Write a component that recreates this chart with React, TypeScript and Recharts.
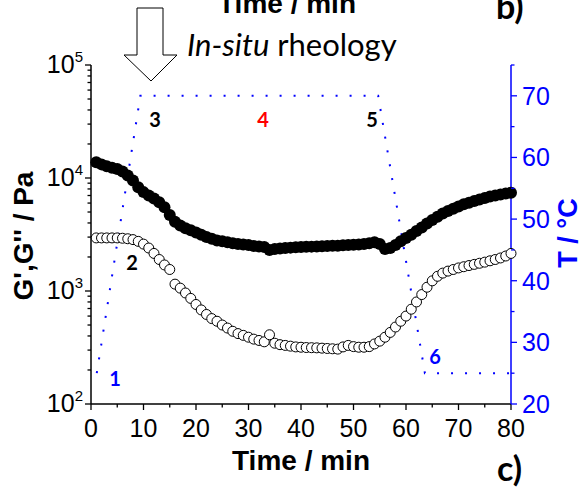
import React from "react";
import { ComposedChart, Scatter, Line, XAxis, YAxis } from "recharts";

// time stamps of the rheology measurement (min)
const time = [
  1, 2, 3, 4, 5, 6, 7, 8, 9, 10, 11, 12, 13, 14, 15, 16, 17, 18, 19, 20,
  21, 22, 23, 24, 25, 26, 27, 28, 29, 30, 31, 32, 33, 34, 35, 36, 37, 38, 39, 40,
  41, 42, 43, 44, 45, 46, 47, 48, 49, 50, 51, 52, 53, 54, 55, 56, 57, 58, 59, 60,
  61, 62, 63, 64, 65, 66, 67, 68, 69, 70, 71, 72, 73, 74, 75, 76, 77, 78, 79, 80,
];

// storage modulus G' (Pa), filled symbols
const gPrime = [
  13800, 13200, 12700, 12300, 12000, 11400, 10500, 9500, 8300, 7500,
  7000, 6600, 6100, 5500, 4700, 4100, 3800, 3600, 3450, 3300,
  3150, 3000, 2900, 2800, 2750, 2700, 2650, 2600, 2580, 2550,
  2500, 2480, 2450, 2300, 2350, 2380, 2400, 2420, 2440, 2450,
  2460, 2470, 2480, 2490, 2500, 2510, 2520, 2540, 2550, 2560,
  2580, 2600, 2650, 2700, 2600, 2350, 2400, 2550, 2750, 2950,
  3150, 3400, 3650, 3950, 4250, 4550, 4850, 5100, 5350, 5600,
  5850, 6050, 6250, 6450, 6650, 6850, 7000, 7150, 7300, 7400,
];

// loss modulus G'' (Pa), open symbols
const gDouble = [
  2950, 2950, 2950, 2950, 2950, 2930, 2900, 2850, 2750, 2600,
  2400, 2150, 1900, 1700, 1550, 1150, 1060, 960, 860, 760,
  680, 620, 570, 540, 500, 470, 440, 420, 405, 390,
  375, 365, 355, 410, 345, 335, 330, 325, 320, 318,
  316, 315, 314, 312, 310, 308, 306, 320, 330, 322,
  318, 318, 322, 340, 360, 390, 430, 480, 540, 600,
  690, 800, 930, 1080, 1230, 1350, 1440, 1500, 1550, 1600,
  1640, 1680, 1720, 1760, 1800, 1850, 1900, 1960, 2040, 2150,
];

// temperature programme
const tempTime = [1.1, 9.4, 54.7, 63.6, 80];
const tempValue = [25, 70, 70, 25, 25];

const xTicks = [0, 5, 10, 15, 20, 25, 30, 35, 40, 45, 50, 55, 60, 65, 70, 75, 80];
const gTicks = [
  100, 200, 300, 400, 500, 600, 700, 800, 900,
  1000, 2000, 3000, 4000, 5000, 6000, 7000, 8000, 9000,
  10000, 20000, 30000, 40000, 50000, 60000, 70000, 80000, 90000,
  100000,
];
const tTicks = [20, 25, 30, 35, 40, 45, 50, 55, 60, 65, 70, 75];

const gPrimeData = time.map((t, i) => ({ t, g: gPrime[i] }));
const gDoubleData = time.map((t, i) => ({ t, g: gDouble[i] }));
const tempData = tempTime.map((t, i) => ({ t, T: tempValue[i] }));

const BLUE = "#0000ff";
const ARIAL = "'Liberation Sans', Arial, sans-serif";
const CAL = "Lato, 'Open Sans', sans-serif";

function XTick({ x, y, payload }: any) {
  const v = payload.value;
  const major = v % 10 === 0;
  return (
    <g>
      <line x1={x} x2={x} y1={y} y2={y + (major ? 6 : 3.5)} stroke="#000" strokeWidth={1.3} />
      {major && (
        <text x={x} y={y + 33} textAnchor="middle" fontSize={25} fontFamily={ARIAL} fill="#000">
          {v}
        </text>
      )}
    </g>
  );
}

function LogTick({ x, y, payload }: any) {
  const v = payload.value;
  const exp = Math.log10(v);
  const major = Math.abs(exp - Math.round(exp)) < 1e-6;
  return (
    <g>
      <line x1={x} x2={x - (major ? 6 : 3.5)} y1={y} y2={y} stroke="#000" strokeWidth={1.3} />
      {major && (
        <text x={x - 8} y={y + 8} textAnchor="end" fontSize={25} fontFamily={ARIAL} fill="#000">
          10
          <tspan dy={-11} fontSize={15}>
            {Math.round(exp)}
          </tspan>
        </text>
      )}
    </g>
  );
}

function TempTick({ x, y, payload }: any) {
  const v = payload.value;
  const major = v % 10 === 0;
  return (
    <g>
      <line x1={x} x2={x + (major ? 6 : 3.5)} y1={y} y2={y} stroke={BLUE} strokeWidth={1.3} />
      {major && (
        <text x={x + 11} y={y + 9} textAnchor="start" fontSize={25} fontFamily={ARIAL} fill={BLUE}>
          {v}
        </text>
      )}
    </g>
  );
}

const filledDot = (p: any) => <circle cx={p.cx} cy={p.cy} r={6} fill="#000" />;
const openDot = (p: any) => (
  <circle cx={p.cx} cy={p.cy} r={5} fill="#fff" stroke="#000" strokeWidth={1} />
);

export default function App() {
  return (
    <div style={{ position: "absolute", left: 0, top: 0, width: 584, height: 488, background: "#fff" }}>
      <ComposedChart width={584} height={488} margin={{ top: 65, right: 0, bottom: 0, left: 0 }}>
        <XAxis
          dataKey="t"
          type="number"
          domain={[0, 80]}
          ticks={xTicks}
          interval={0}
          height={84}
          tickSize={0}
          tickMargin={0}
          tickLine={false}
          axisLine={{ stroke: "#000", strokeWidth: 1.5 }}
          tick={(p: any) => <XTick {...p} />}
        />
        <YAxis
          yAxisId="G"
          dataKey="g"
          scale="log"
          domain={[100, 100000]}
          allowDataOverflow
          ticks={gTicks}
          interval={0}
          width={91}
          tickSize={0}
          tickMargin={0}
          tickLine={false}
          axisLine={{ stroke: "#000", strokeWidth: 1.5 }}
          tick={(p: any) => <LogTick {...p} />}
        />
        <YAxis
          yAxisId="T"
          dataKey="T"
          orientation="right"
          domain={[20, 75]}
          allowDataOverflow
          ticks={tTicks}
          interval={0}
          width={73}
          tickSize={0}
          tickMargin={0}
          tickLine={false}
          axisLine={{ stroke: BLUE, strokeWidth: 1.5 }}
          tick={(p: any) => <TempTick {...p} />}
        />
        <Scatter yAxisId="G" data={gDoubleData} shape={openDot} isAnimationActive={false} />
        <Scatter yAxisId="G" data={gPrimeData} shape={filledDot} isAnimationActive={false} />
        <Line
          yAxisId="T"
          data={tempData}
          dataKey="T"
          type="linear"
          stroke={BLUE}
          strokeWidth={2}
          strokeDasharray="2 12"
          dot={false}
          activeDot={false}
          isAnimationActive={false}
        />
      </ComposedChart>
      <svg
        width={584}
        height={488}
        style={{ position: "absolute", left: 0, top: 0, pointerEvents: "none" }}
      >
        {/* title of the panel above, cut by the crop as in the figure */}
        <text x={287} y={13} textAnchor="middle" fontSize={28} fontWeight="bold" fontFamily={ARIAL}>
          Time / min
        </text>
        <text x={496} y={19} fontSize={34} fontWeight="bold" fontFamily={CAL}>
          b)
        </text>
        <polygon
          points="137,8 163,8 163,55 177,55 151,81 124,55 137,55"
          fill="#fff"
          stroke="#000"
          strokeWidth={1}
        />
        <text x={187} y={56} fontSize={31} fontFamily={CAL}>
          <tspan fontStyle="italic">In-situ</tspan> rheology
        </text>
        {/* axis titles */}
        <text
          transform="translate(33,236) rotate(-90)"
          textAnchor="middle"
          fontSize={28}
          fontWeight="bold"
          fontFamily={ARIAL}
        >
          G',G'' / Pa
        </text>
        <text
          transform="translate(577,233) rotate(-90)"
          textAnchor="middle"
          fontSize={27}
          fontWeight="bold"
          fontFamily={ARIAL}
          fill={BLUE}
        >
          T / °C
        </text>
        <text x={301} y={470} textAnchor="middle" fontSize={28} fontWeight="bold" fontFamily={ARIAL}>
          Time / min
        </text>
        <text x={497} y={481} fontSize={34} fontWeight="bold" fontFamily={CAL}>
          c)
        </text>
        {/* stage labels */}
        <g fontSize={20} fontWeight="bold" fontFamily={CAL} textAnchor="middle">
          <text x={115} y={386} fill={BLUE}>1</text>
          <text x={132} y={270} fill="#000">2</text>
          <text x={155} y={127} fill="#000">3</text>
          <text x={263} y={127} fill="#ff0000">4</text>
          <text x={372} y={127} fill="#000">5</text>
          <text x={435} y={364} fill={BLUE}>6</text>
        </g>
      </svg>
    </div>
  );
}
